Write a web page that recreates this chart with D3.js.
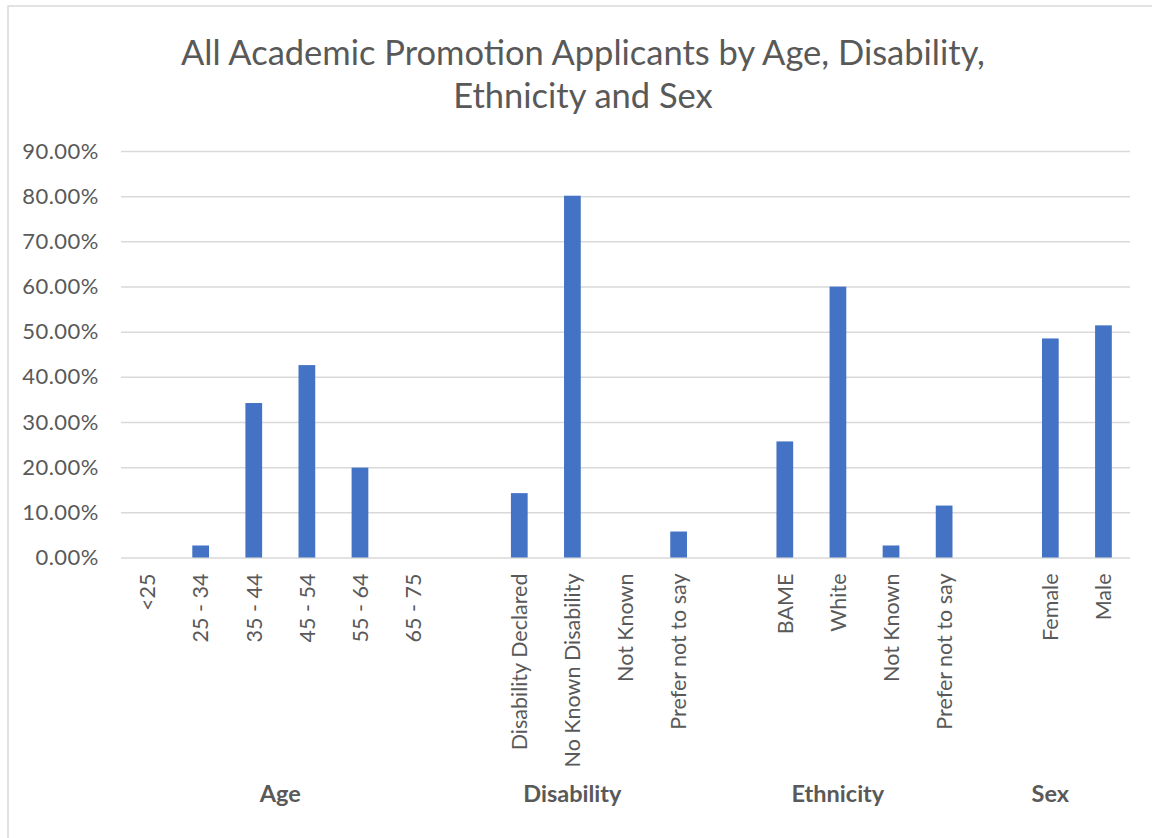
<!DOCTYPE html>
<html>
<head>
<meta charset="utf-8">
<script src="https://cdn.jsdelivr.net/npm/d3@7"></script>
<style>
  html, body { margin: 0; padding: 0; background: #ffffff; }
  svg { display: block; font-family: Lato, "Open Sans", sans-serif; }
</style>
</head>
<body>
<svg id="chart" width="1152" height="838"></svg>
<script>
// Share of applicants in each category, by characteristic
const groupNames = ["Age", "Disability", "Ethnicity", "Sex"];

const ageLabels = ["<25", "25 - 34", "35 - 44", "45 - 54", "55 - 64", "65 - 75"];
const ageValues = [0, 0.0266, 0.342, 0.426, 0.199, 0];

const disabilityLabels = ["Disability Declared", "No Known Disability", "Not Known", "Prefer not to say"];
const disabilityValues = [0.1425, 0.801, 0, 0.0575];

const ethnicityLabels = ["BAME", "White", "Not Known", "Prefer not to say"];
const ethnicityValues = [0.257, 0.5997, 0.0266, 0.115];

const sexLabels = ["Female", "Male"];
const sexValues = [0.485, 0.514];

const yTicks = [0, 0.1, 0.2, 0.3, 0.4, 0.5, 0.6, 0.7, 0.8, 0.9];

const titleLines = ["All Academic Promotion Applicants by Age, Disability,", "Ethnicity and Sex"];

const groupData = [
  { name: groupNames[0], labels: ageLabels, values: ageValues },
  { name: groupNames[1], labels: disabilityLabels, values: disabilityValues },
  { name: groupNames[2], labels: ethnicityLabels, values: ethnicityValues },
  { name: groupNames[3], labels: sexLabels, values: sexValues }
];

// Flatten into slots; an empty slot separates consecutive groups
const slots = [];
groupData.forEach((g, gi) => {
  g.keys = [];
  if (gi > 0) {
    const k = "gap-" + gi;
    slots.push({ key: k, label: "", value: null });
    g.keys.push(k);
  }
  g.labels.forEach((lab, i) => {
    const k = g.name + "|" + lab;
    slots.push({ key: k, label: lab, value: g.values[i] });
    g.keys.push(k);
  });
});

const W = 1152, H = 838;
const margin = { left: 121, right: 22, top: 151 };
const plotW = W - margin.left - margin.right;
const plotBottom = 557.5;

const svg = d3.select("#chart");
const textColor = "#595959";

// Chart frame
svg.append("rect")
  .attr("x", 8).attr("y", 6)
  .attr("width", 1170).attr("height", 860)
  .attr("fill", "#ffffff")
  .attr("stroke", "#d9d9d9")
  .attr("stroke-width", 1.5);

const x = d3.scaleBand()
  .domain(slots.map(d => d.key))
  .range([margin.left, margin.left + plotW])
  .paddingInner(0.685)
  .paddingOuter(0.3425);

const y = d3.scaleLinear()
  .domain([0, 0.9])
  .range([plotBottom, margin.top]);

// Gridlines and value labels
const yAxis = d3.axisLeft(y)
  .tickValues(yTicks)
  .tickFormat(d3.format(".2%"))
  .tickSize(-plotW)
  .tickPadding(22);

const gy = svg.append("g")
  .attr("transform", `translate(${margin.left},0)`)
  .call(yAxis);
gy.select(".domain").remove();
gy.selectAll(".tick line")
  .attr("stroke", "#d9d9d9")
  .attr("stroke-width", 1.5);
gy.selectAll(".tick text")
  .attr("fill", textColor)
  .style("font-size", "22px")
  .style("letter-spacing", "0.5px")
  .style("font-family", "Lato, 'Open Sans', sans-serif");

// Bars
svg.append("g")
  .selectAll("rect")
  .data(slots.filter(d => d.value !== null && d.value > 0))
  .join("rect")
  .attr("x", d => x(d.key))
  .attr("width", x.bandwidth())
  .attr("y", d => y(d.value))
  .attr("height", d => y(0) - y(d.value))
  .attr("fill", "#4472c4");

// Category labels, rotated
const step = x.step();
svg.append("g")
  .selectAll("text")
  .data(slots.filter(d => d.label !== ""))
  .join("text")
  .attr("transform", d => `translate(${x(d.key) + x.bandwidth() / 2},${plotBottom + 16}) rotate(-90)`)
  .attr("text-anchor", "end")
  .attr("dy", "0.36em")
  .attr("fill", textColor)
  .style("font-size", "21.5px")
  .text(d => d.label);

// Group labels centred under their span of slots
svg.append("g")
  .selectAll("text")
  .data(groupData)
  .join("text")
  .attr("x", g => {
    const first = x(g.keys[0]) - (step - x.bandwidth()) / 2;
    const last = x(g.keys[g.keys.length - 1]) + x.bandwidth() + (step - x.bandwidth()) / 2;
    return (first + last) / 2;
  })
  .attr("y", 802)
  .attr("text-anchor", "middle")
  .attr("fill", textColor)
  .style("font-size", "23.5px")
  .style("font-weight", "bold")
  .text(g => g.name);

// Title
svg.append("g")
  .selectAll("text")
  .data(titleLines)
  .join("text")
  .attr("x", 583)
  .attr("y", (d, i) => 65 + i * 43)
  .attr("text-anchor", "middle")
  .attr("fill", textColor)
  .style("font-size", "34.5px")
  .text(d => d);
</script>
</body>
</html>
